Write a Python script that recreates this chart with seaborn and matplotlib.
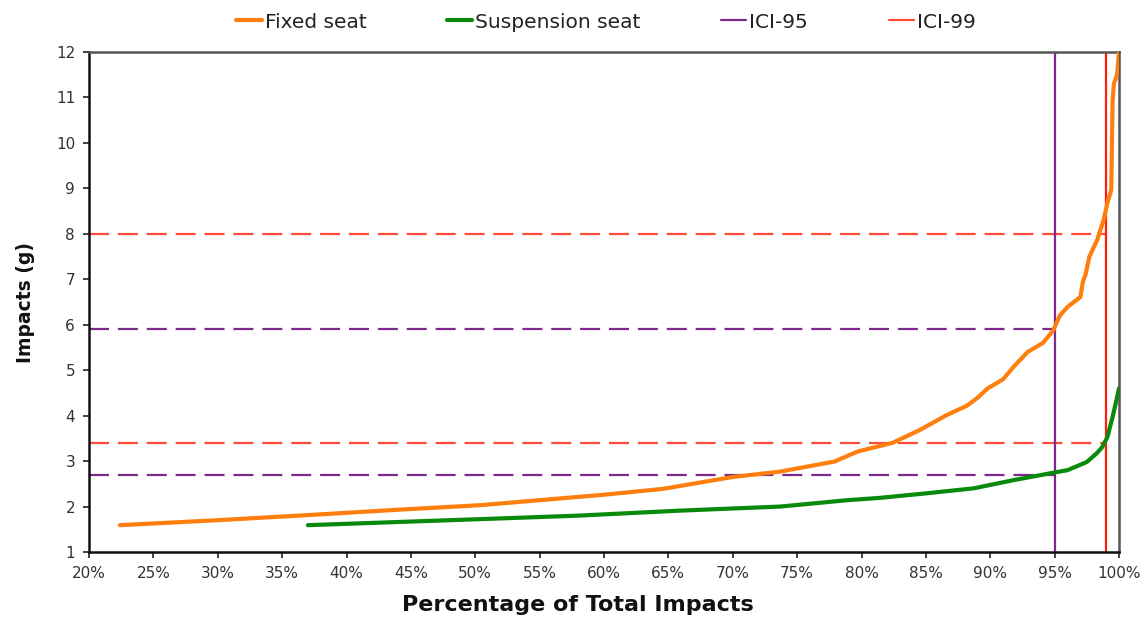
import matplotlib
matplotlib.use("Agg")
import matplotlib.pyplot as plt
from matplotlib.ticker import FuncFormatter
from matplotlib.lines import Line2D
import seaborn as sns
import pandas as pd

# Cumulative impact distributions (percentage of total impacts vs. impact level in g)
fixed_pct = [22.4, 30.0, 36.9, 44.0, 50.4, 55.0, 60.0, 64.6, 70.0, 73.7, 77.9,
             79.7, 82.4, 84.5, 86.6, 88.2, 89.0, 89.8, 91.0, 91.8, 92.9, 94.1,
             94.9, 95.4, 96.0, 97.0, 97.2, 97.4, 97.7, 98.3, 98.8, 99.1, 99.4,
             99.5, 99.6, 99.85, 100.0]
fixed_g = [1.59, 1.70, 1.81, 1.93, 2.03, 2.14, 2.26, 2.39, 2.65, 2.77, 2.99,
           3.21, 3.40, 3.68, 4.01, 4.22, 4.39, 4.60, 4.80, 5.07, 5.40, 5.60,
           5.88, 6.20, 6.39, 6.61, 6.95, 7.10, 7.50, 7.86, 8.30, 8.68, 8.97,
           10.9, 11.3, 11.5, 12.0]

susp_pct = [37.0, 44.0, 51.1, 58.0, 65.9, 73.7, 78.9, 81.4, 85.0, 88.7, 91.8,
            95.2, 96.0, 97.5, 98.3, 98.7, 99.1, 99.5, 99.8, 100.0]
susp_g = [1.59, 1.66, 1.73, 1.80, 1.91, 2.00, 2.14, 2.19, 2.29, 2.40, 2.58,
          2.76, 2.80, 2.98, 3.18, 3.31, 3.53, 3.97, 4.34, 4.60]

series_names = ["Fixed seat", "Suspension seat"]

# Impact-count index thresholds
ici95_pct, ici99_pct = 95, 99
ici95_g = [2.7, 5.9]   # suspension, fixed
ici99_g = [3.4, 8.0]

x_ticks = list(range(20, 101, 5))
y_ticks = list(range(1, 13))

df = pd.concat([
    pd.DataFrame({"pct": fixed_pct, "g": fixed_g, "seat": series_names[0]}),
    pd.DataFrame({"pct": susp_pct, "g": susp_g, "seat": series_names[1]}),
])

sns.set_theme(style="white")
plt.rcParams["font.family"] = ["DejaVu Sans"]

c_fixed = "#ff7f0e"
c_susp = "#0a8a0a"
c_95 = "#7d2a8c"
c_99 = "#ff1e0a"
c_99_dash = "#ff4a3a"

fig = plt.figure(figsize=(11.46, 6.19), dpi=100)
ax = fig.add_axes([89 / 1146, 1 - 552 / 619, 1030 / 1146, 500 / 619])

# threshold guides
ax.hlines(ici95_g, x_ticks[0], ici95_pct, colors=c_95, linestyles=(0, (9, 4)), lw=1.6, zorder=2)
ax.hlines(ici99_g, x_ticks[0], ici99_pct, colors=c_99_dash, linestyles=(0, (9, 4)), lw=1.6, zorder=2)
ax.axvline(ici95_pct, color=c_95, lw=1.6, zorder=2)
ax.axvline(ici99_pct, color=c_99, lw=1.6, zorder=2)

sns.lineplot(data=df, x="pct", y="g", hue="seat", hue_order=series_names,
             palette=[c_fixed, c_susp], sort=False, estimator=None,
             lw=3.0, ax=ax, legend=False, zorder=3)

ax.set_xlim(x_ticks[0], x_ticks[-1])
ax.set_ylim(y_ticks[0], y_ticks[-1])
ax.set_xticks(x_ticks)
ax.set_yticks(y_ticks)
ax.xaxis.set_major_formatter(FuncFormatter(lambda v, p: f"{v:.0f}%"))
ax.tick_params(axis="both", which="major", direction="out", length=4, width=1.2,
               color="#222222", labelsize=11, labelcolor="#333333", pad=6)
ax.tick_params(axis="x", bottom=True)
ax.tick_params(axis="y", left=True)

for side in ["left", "bottom"]:
    ax.spines[side].set_color("#111111")
    ax.spines[side].set_linewidth(1.8)
for side in ["top", "right"]:
    ax.spines[side].set_color("#555555")
    ax.spines[side].set_linewidth(1.8)

ax.set_xlabel("Percentage of Total Impacts", fontsize=16, fontweight="bold", color="#111111")
ax.set_ylabel("Impacts (g)", fontsize=13.5, fontweight="bold", color="#111111")
ax.xaxis.set_label_coords(0.475, -0.086)
ax.yaxis.set_label_coords(-0.052, 0.5)

handles = [Line2D([], [], color=c_fixed, lw=3),
           Line2D([], [], color=c_susp, lw=3),
           Line2D([], [], color=c_95, lw=1.6),
           Line2D([], [], color=c_99_dash, lw=1.6)]
labels = series_names + ["ICI-95", "ICI-99"]
leg = fig.legend(handles, labels, loc="center", bbox_to_anchor=(606 / 1146, 1 - 22 / 619),
                 ncol=4, frameon=False, fontsize=14.5, handlelength=1.25, handletextpad=0.15,
                 columnspacing=4.0)
for t in leg.get_texts():
    t.set_color("#222222")

fig.savefig("out.png", dpi=100, facecolor="white")
